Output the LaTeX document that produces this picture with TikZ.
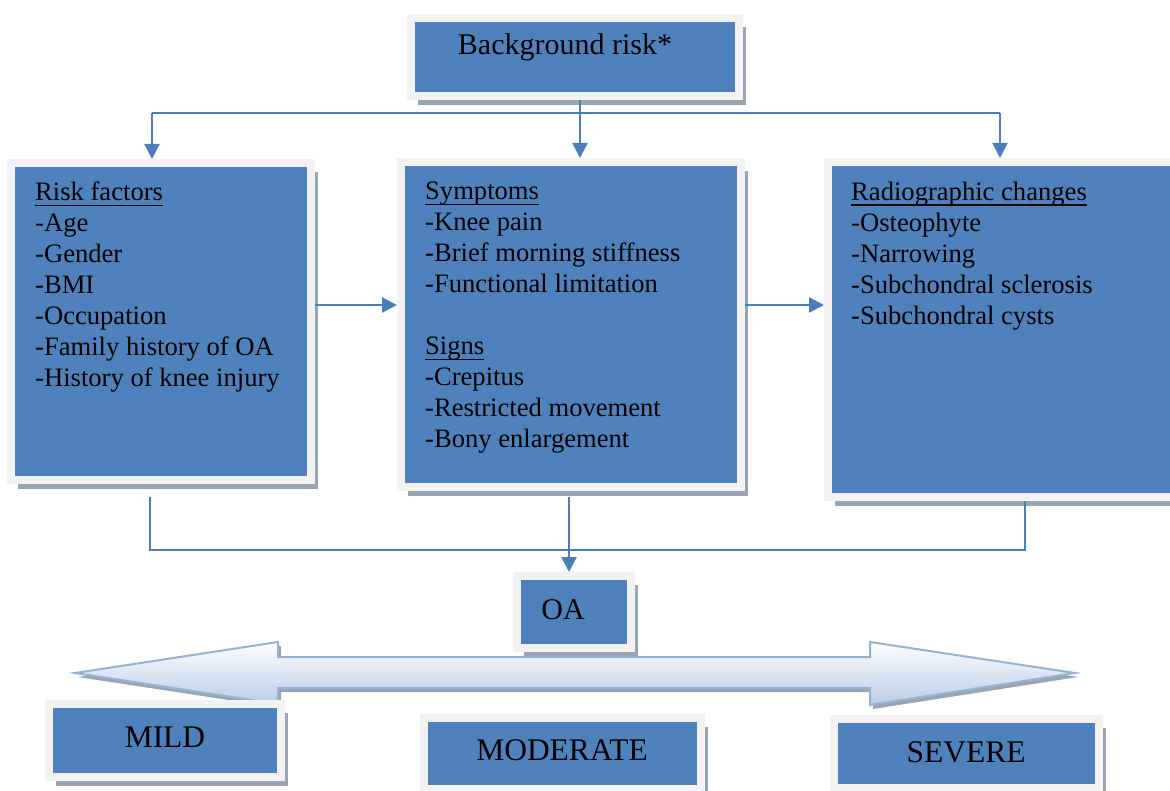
\documentclass[tikz,border=0pt]{standalone}
\usepackage{fontspec}
\setmainfont{Liberation Serif}
\usepackage{tikz}
\usetikzlibrary{positioning,arrows.meta,shadows}
\definecolor{colorbox}    {RGB}{ 79,129,189}
\definecolor{colorframe}  {RGB}{242,242,242}
\definecolor{colorshadow} {RGB}{153,164,181}
\definecolor{colorlink}   {RGB}{ 74,126,187}
\definecolor{colorarrow}  {RGB}{184,204,228}
\definecolor{colorrim}    {RGB}{149,179,215}
\definecolor{colortext}   {RGB}{  0,  0,  0}
\newcommand{\uhead}[1]{\setbox0\hbox{#1}\rlap{\rule[-5pt]{\wd0}{1.3pt}}\box0}

\begin{document}
\begin{tikzpicture}[
    x=1pt, y=-1pt,
    >={Triangle[length=15pt,width=15pt]},
    box/.style={draw=colorframe,fill=colorbox,line width=8pt,inner sep=0pt,
        general shadow={fill=colorshadow,shadow xshift=7pt,shadow yshift=-9pt}},
    title/.style={text=colortext,font={\fontsize{30}{36}\selectfont},inner sep=0pt},
    level/.style={text=colortext,font={\fontsize{31.5}{36}\selectfont},inner sep=0pt},
    items/.style={text=colortext,font={\fontsize{26.6}{31}\selectfont},align=left,anchor=north west,inner sep=0pt},
    link/.style={draw=colorlink,line width=2.2pt}
]
    \path[use as bounding box,clip] (0,0) rectangle (1170,791);

    % Background risk
    \node[box,minimum width=328,minimum height=78] (bg) at (575,57) {};
    \node[title] (bgtext) at (565,47) {Background risk*};

    % Risk factors
    \node[box,minimum width=300,minimum height=317] (risk) at (161,321.5) {};
    \node[items] (risktext) at (35,182) {\uhead{Risk factors}\\-Age\\-Gender\\-BMI\\-Occupation\\-Family history of OA\\-History of knee injury};

    % Symptoms and signs
    \node[box,minimum width=340,minimum height=325] (sympt) at (571,324.5) {};
    \node[items] (symptext) at (425,182) {\uhead{Symptoms}\\-Knee pain\\-Brief morning stiffness\\-Functional limitation\\[31pt]\uhead{Signs}\\-Crepitus\\-Restricted movement\\-Bony enlargement};

    % Radiographic changes
    \node[box,minimum width=357,minimum height=335] (radio) at (1006.5,329.5) {};
    \node[items] (radiotext) at (851,182) {\uhead{Radiographic changes}\\-Osteophyte\\-Narrowing\\-Subchondral sclerosis\\-Subchondral cysts};

    % OA
    \node[box,minimum width=114,minimum height=72] (oa) at (574,612) {};
    \node[title] (oatext) at (563,610) {OA};

    % Severity arrow
    \draw[draw=colorrim,line width=2pt,top color=white,bottom color=colorarrow,
        general shadow={fill=colorshadow,shadow xshift=3pt,shadow yshift=-4pt}]
        (75,673) -- (278,642) -- (278,657) -- (870,657) -- (870,642) -- (1075,673)
        -- (870,705) -- (870,688) -- (278,688) -- (278,704) -- cycle;

    % Severity levels
    \node[box,minimum width=232,minimum height=73] (mild) at (165,740.5) {};
    \node[level] (mildtext) at (165,737) {MILD};
    \node[box,minimum width=277,minimum height=71] (moderate) at (562.5,753.5) {};
    \node[level] (moderatetext) at (562,750) {MODERATE};
    \node[box,minimum width=265,minimum height=69] (severe) at (966.5,753.5) {};
    \node[level] (severetext) at (966,752) {SEVERE};

    % Arrows from background risk
    \coordinate (split) at (580,113);
    \coordinate (riskin) at (152,113);
    \coordinate (radioin) at (1000,113);
    \draw[link,->] (bg.south -| split) -- (sympt.north -| split);
    \draw[link] (riskin) -- (radioin);
    \draw[link,->] (riskin) -- (riskin |- risk.north);
    \draw[link,->] (radioin) -- (radioin |- radio.north);

    % Arrows between boxes
    \coordinate (row) at (0,305);
    \draw[link,->] (risk.east |- row) -- (sympt.west |- row);
    \draw[link,->] (sympt.east |- row) -- (radio.west |- row);

    % Arrows to OA
    \coordinate (riskout) at (150,550);
    \coordinate (radioout) at (1025,550);
    \coordinate (merge) at (569,550);
    \draw[link,shorten <=13pt] (risk.south -| riskout) -- (riskout) -- (radioout) -- (radio.south -| radioout);
    \draw[link,->,shorten <=6pt] (sympt.south -| merge) -- (oa.north -| merge);

\end{tikzpicture}
\end{document}
